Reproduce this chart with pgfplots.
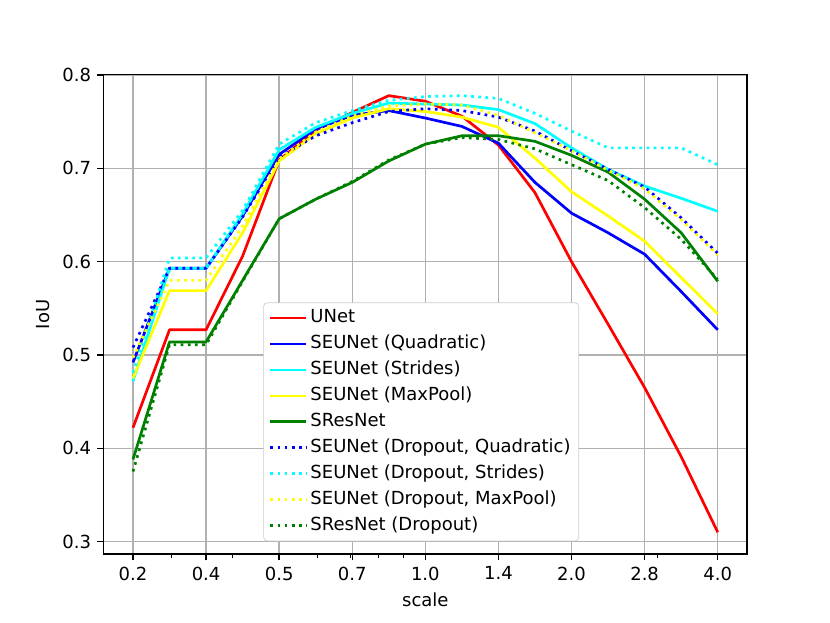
\documentclass[border=0pt]{standalone}
\usepackage{pgfplots}
\pgfplotsset{compat=1.18}
\usepackage{fontspec}
\setmainfont{DejaVu Sans}
\usetikzlibrary{calc}
\definecolor{mplgreen}{HTML}{008000}
\definecolor{mplred}{HTML}{FF0000}
\definecolor{mplblue}{HTML}{0000FF}
\definecolor{mplcyan}{HTML}{00FFFF}
\definecolor{mplyellow}{HTML}{FFFF00}
\definecolor{gridgray}{HTML}{B0B0B0}
\definecolor{leggray}{HTML}{CCCCCC}
\definecolor{legfill}{HTML}{FFFFFF}
\tikzset{sl/.style={line width=1.5pt, line join=round, solid},
         dl/.style={line width=1.5pt, line join=round, dash pattern=on 1.5pt off 2.475pt}}
\begin{document}
\fontsize{10}{12}\selectfont
\begin{tikzpicture}
\begin{axis}[name=ax, width=357.1pt, height=266.1pt, scale only axis,
  xmin=-0.8, xmax=16.8, ymin=0.2866, ymax=0.8004,
  xtick={0,2,4,6,8,10,12,14,16},
  xticklabels={0.2,0.4,0.5,0.7,1.0,1.4,2.0,2.8,4.0},
  minor xtick={1.052,2.712,5.052,5.941,6.712,7.392,14.34},
  ytick={0.3,0.4,0.5,0.6,0.7,0.8},
  yticklabel style={/pgf/number format/.cd,fixed,fixed zerofill,precision=1},
  /pgf/number format/assume math mode=true,
  grid=major, major grid style={gridgray, line width=0.8pt},
  tick align=outside, major tick length=3.5pt, minor tick length=2pt,
  major tick style={black, line width=0.8pt},
  minor tick style={black, line width=0.6pt},
  axis line style={line width=0.8pt},
  tick pos=left,
  xlabel={scale}, ylabel={IoU},
  tick label style={font=\fontsize{10}{12}\selectfont},
  label style={font=\fontsize{10}{12}\selectfont},
  legend style={at={(0.248,0.525)}, anchor=north west, draw=leggray, rounded corners=2pt,
    fill=legfill, font=\fontsize{10}{12}\selectfont,
    nodes={inner sep=1.5pt, text height=7.6pt, text depth=2.4pt}, row sep=1.4pt},
  legend cell align=left,
  legend image code/.code={\draw[#1] (0pt,0pt) -- (20pt,0pt);},
]
\addplot[mplred, sl] coordinates {(0,0.422)(1,0.527)(2,0.527)(3,0.606)(4,0.709)(5,0.741)(6,0.760)(7,0.778)(8,0.772)(9,0.756)(10,0.725)(11,0.674)(12,0.600)(13,0.533)(14,0.465)(15,0.391)(16,0.310)};
\addlegendentry{UNet}
\addplot[mplblue, sl] coordinates {(0,0.492)(1,0.593)(2,0.593)(3,0.649)(4,0.715)(5,0.742)(6,0.757)(7,0.762)(8,0.754)(9,0.745)(10,0.727)(11,0.685)(12,0.652)(13,0.631)(14,0.608)(15,0.568)(16,0.527)};
\addlegendentry{SEUNet (Quadratic)}
\addplot[mplcyan, sl] coordinates {(0,0.472)(1,0.593)(2,0.593)(3,0.651)(4,0.720)(5,0.744)(6,0.759)(7,0.770)(8,0.769)(9,0.768)(10,0.763)(11,0.748)(12,0.722)(13,0.699)(14,0.681)(15,0.668)(16,0.654)};
\addlegendentry{SEUNet (Strides)}
\addplot[mplyellow, sl] coordinates {(0,0.475)(1,0.569)(2,0.569)(3,0.631)(4,0.708)(5,0.737)(6,0.754)(7,0.764)(8,0.761)(9,0.755)(10,0.744)(11,0.711)(12,0.675)(13,0.649)(14,0.622)(15,0.583)(16,0.544)};
\addlegendentry{SEUNet (MaxPool)}
\addplot[mplgreen, sl] coordinates {(0,0.388)(1,0.514)(2,0.514)(3,0.580)(4,0.646)(5,0.667)(6,0.685)(7,0.708)(8,0.726)(9,0.735)(10,0.735)(11,0.729)(12,0.714)(13,0.696)(14,0.667)(15,0.631)(16,0.579)};
\addlegendentry{SResNet}
\addplot[mplblue, dl] coordinates {(0,0.508)(1,0.593)(2,0.593)(3,0.648)(4,0.712)(5,0.735)(6,0.749)(7,0.761)(8,0.764)(9,0.762)(10,0.755)(11,0.740)(12,0.719)(13,0.699)(14,0.680)(15,0.647)(16,0.609)};
\addlegendentry{SEUNet (Dropout, Quadratic)}
\addplot[mplcyan, dl] coordinates {(0,0.481)(1,0.604)(2,0.604)(3,0.655)(4,0.726)(5,0.749)(6,0.762)(7,0.773)(8,0.777)(9,0.778)(10,0.775)(11,0.759)(12,0.740)(13,0.722)(14,0.722)(15,0.722)(16,0.704)};
\addlegendentry{SEUNet (Dropout, Strides)}
\addplot[mplyellow, dl] coordinates {(0,0.497)(1,0.580)(2,0.580)(3,0.638)(4,0.710)(5,0.739)(6,0.756)(7,0.767)(8,0.769)(9,0.768)(10,0.757)(11,0.738)(12,0.719)(13,0.698)(14,0.678)(15,0.645)(16,0.607)};
\addlegendentry{SEUNet (Dropout, MaxPool)}
\addplot[mplgreen, dl] coordinates {(0,0.375)(1,0.511)(2,0.511)(3,0.579)(4,0.646)(5,0.667)(6,0.686)(7,0.709)(8,0.726)(9,0.733)(10,0.731)(11,0.721)(12,0.704)(13,0.687)(14,0.658)(15,0.624)(16,0.581)};
\addlegendentry{SResNet (Dropout)}
\end{axis}
\pgfresetboundingbox
\path ($(ax.south west)+(-57.6pt,-38.0pt)$) rectangle ($(ax.north east)+(46.1pt,41.5pt)$);
\end{tikzpicture}
\end{document}
